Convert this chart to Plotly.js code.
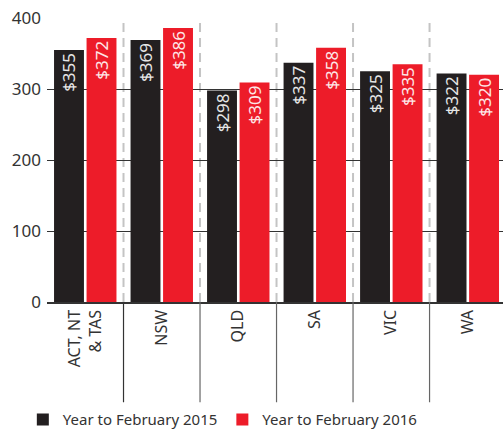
<!DOCTYPE html>
<html>
<head>
<meta charset="utf-8">
<script src="https://cdn.plot.ly/plotly-3.0.1.min.js"></script>
<style>
  html, body { margin: 0; padding: 0; background: #fff; }
  #chart { width: 503px; height: 437px; }
</style>
</head>
<body>
<div id="chart"></div>
<script>
const regions = ['ACT, NT<br>& TAS', 'NSW', 'QLD', 'SA', 'VIC', 'WA'];
const values2015 = [355, 369, 298, 337, 325, 322];
const values2016 = [372, 386, 309, 358, 335, 320];
const yTicks = [0, 100, 200, 300, 400];

const font = 'Noto Sans, Open Sans, sans-serif';

function barTrace(name, values, color, textColor) {
  return {
    type: 'bar',
    name: name,
    x: regions,
    y: values,
    marker: { color: color },
    text: values.map(v => '$' + v),
    textposition: 'inside',
    insidetextanchor: 'end',
    textangle: -90,
    constraintext: 'none',
    textfont: { family: font, size: 17, color: textColor },
    hoverinfo: 'skip',
  };
}

// separators between the categories: dashed in the plot, solid under the axis
const shapes = [];
for (let i = 0; i < regions.length - 1; i++) {
  shapes.push({
    type: 'line', xref: 'x', yref: 'paper',
    x0: i + 0.5, x1: i + 0.5, y0: 0, y1: 1,
    line: { color: '#c4c4c4', width: 2, dash: '9px,6px' },
    layer: 'below',
  });
  shapes.push({
    type: 'line', xref: 'x', yref: 'paper',
    x0: i + 0.5, x1: i + 0.5, y0: 0, y1: -0.353,
    line: { color: i < 1 ? '#333' : '#666', width: 1.2 },
  });
}

Plotly.newPlot('chart', [
  barTrace('Year to February 2015', values2015, '#231f20', '#e6e6e6'),
  barTrace('Year to February 2016', values2016, '#ed1c29', '#fde6e6'),
], {
  width: 503,
  height: 437,
  margin: { t: 18, r: 0, l: 47, b: 130 },
  paper_bgcolor: '#ffffff',
  plot_bgcolor: '#ffffff',
  barmode: 'group',
  bargap: 0.15,
  bargroupgap: 0.08,
  font: { family: font, color: '#333' },
  xaxis: {
    type: 'category',
    range: [-0.5, 5.46],
    tickangle: -90,
    tickfont: { family: font, size: 16, color: '#333' },
    showgrid: false,
    ticks: '',
    showline: true,
    linecolor: '#333',
    linewidth: 1.5,
    fixedrange: true,
  },
  yaxis: {
    range: [0, 400],
    tickvals: yTicks,
    tickfont: { family: font, size: 17, color: '#333' },
    showgrid: true,
    gridcolor: '#333',
    gridwidth: 1,
    zeroline: false,
    ticks: '',
    ticklabelstandoff: 5,
    showline: false,
    fixedrange: true,
  },
  legend: {
    orientation: 'h',
    x: -0.053,
    xanchor: 'left',
    y: -0.415,
    yanchor: 'middle',
    font: { family: font, size: 15, color: '#333' },
    itemwidth: 30,
    traceorder: 'normal',
  },
  shapes: shapes,
  showlegend: true,
}, { displayModeBar: false, staticPlot: true });
</script>
</body>
</html>
